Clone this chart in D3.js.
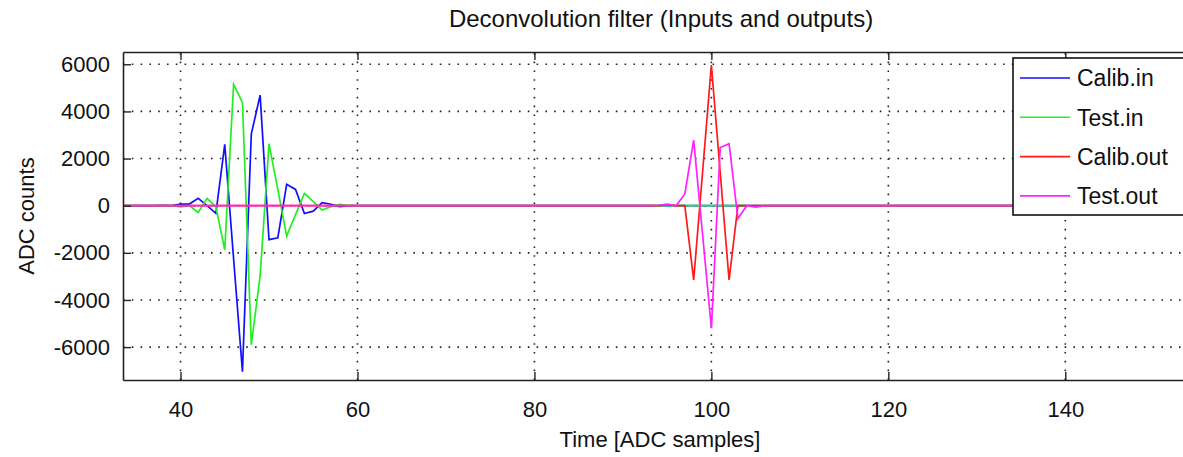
<!DOCTYPE html>
<html>
<head>
<meta charset="utf-8">
<script src="https://cdn.jsdelivr.net/npm/d3@7"></script>
<style>
  html, body { margin: 0; padding: 0; background: #fff; }
  svg { display: block; font-family: "Liberation Sans", Arial, Helvetica, sans-serif; }
</style>
</head>
<body>
<svg id="chart" width="1183" height="457"></svg>
<script>
// Sample index range covered by every trace; samples outside each pulse window are zero.
const sampleRange = [30, 160];

// Pulse windows: [sample, ADC counts]
const calibIn = [
  [37, 0], [38, 20], [39, 0], [40, 70], [41, 70], [42, 310], [43, 0], [44, -325],
  [45, 2600], [46, -2250], [47, -7040], [48, 3040], [49, 4690], [50, -1440],
  [51, -1360], [52, 905], [53, 690], [54, -330], [55, -230], [56, 127], [57, 60],
  [58, -40], [59, 0]
];
const testIn = [
  [39, 0], [40, -50], [41, 0], [42, -290], [43, 311], [44, -50], [45, -1870],
  [46, 5150], [47, 4380], [48, -5900], [49, -2980], [50, 2630], [51, 680],
  [52, -1290], [53, -380], [54, 520], [55, 170], [56, -180], [57, -40], [58, 60],
  [59, 0]
];
const calibOut = [
  [94, 0], [95, 40], [96, 0], [97, 0], [98, -3150], [99, 1400], [100, 5970],
  [101, 1400], [102, -3150], [103, 0], [104, 0]
];
const testOut = [
  [93, 0], [94, 20], [95, 70], [96, 0], [97, 500], [98, 2780], [99, -1200],
  [100, -5200], [101, 2470], [102, 2630], [103, -540], [104, 0], [105, -60],
  [106, 0]
];

const seriesNames = ["Calib.in", "Test.in", "Calib.out", "Test.out"];
const seriesColors = ["#1010ff", "#22ee22", "#ff1a1a", "#ff22ff"];
const xTicks = [40, 60, 80, 100, 120, 140];
const yTicks = [-6000, -4000, -2000, 0, 2000, 4000, 6000];

// Expand a pulse window into a full trace over the sample range
function fullTrace(pulse) {
  const m = new Map(pulse);
  return d3.range(sampleRange[0], sampleRange[1] + 1).map(s => [s, m.get(s) || 0]);
}
const traces = [calibIn, testIn, calibOut, testOut].map(fullTrace);

const svg = d3.select("#chart");
const plot = { left: 123, top: 52, right: 1198, bottom: 380 };

const x = d3.scaleLinear().domain([33.5, 155]).range([plot.left, plot.right]);
const y = d3.scaleLinear().domain([-7395, 6521]).range([plot.bottom, plot.top]);

svg.append("defs").append("clipPath").attr("id", "plotClip")
  .append("rect")
  .attr("x", plot.left).attr("y", plot.top)
  .attr("width", plot.right - plot.left).attr("height", plot.bottom - plot.top);

// Dotted grid
const grid = svg.append("g").attr("clip-path", "url(#plotClip)")
  .attr("stroke", "#222").attr("stroke-width", 1.6).attr("stroke-dasharray", "1.6,7.2");
grid.selectAll("line.gx").data(xTicks).join("line")
  .attr("x1", d => x(d)).attr("x2", d => x(d))
  .attr("y1", plot.bottom).attr("y2", plot.top);
grid.selectAll("line.gy").data(yTicks).join("line")
  .attr("x1", plot.left).attr("x2", plot.right)
  .attr("y1", d => y(d)).attr("y2", d => y(d));

// Traces
const line = d3.line().x(d => x(d[0])).y(d => y(d[1]));
svg.append("g").attr("clip-path", "url(#plotClip)")
  .selectAll("path").data(traces).join("path")
  .attr("d", line)
  .attr("fill", "none")
  .attr("stroke", (d, i) => seriesColors[i])
  .attr("stroke-width", 1.7)
  .attr("stroke-linejoin", "miter");

// Axes with inward ticks on all four sides; plain hyphen for negatives
const tickLen = 8;
const axisColor = "#222";
const fmt = d => String(d);
const bottomAxis = svg.append("g").attr("transform", `translate(0,${plot.bottom})`)
  .call(d3.axisBottom(x).tickValues(xTicks).tickFormat(fmt).tickSizeInner(-tickLen).tickSizeOuter(0).tickPadding(21));
const topAxis = svg.append("g").attr("transform", `translate(0,${plot.top})`)
  .call(d3.axisTop(x).tickValues(xTicks).tickSizeInner(-tickLen).tickSizeOuter(0).tickFormat(""));
const leftAxis = svg.append("g").attr("transform", `translate(${plot.left},0)`)
  .call(d3.axisLeft(y).tickValues(yTicks).tickFormat(fmt).tickSizeInner(-tickLen).tickSizeOuter(0).tickPadding(13));
const rightAxis = svg.append("g").attr("transform", `translate(${plot.right},0)`)
  .call(d3.axisRight(y).tickValues(yTicks).tickSizeInner(-tickLen).tickSizeOuter(0).tickFormat(""));

[bottomAxis, topAxis, leftAxis, rightAxis].forEach(g => {
  g.attr("font-size", 22).attr("font-family", "'Liberation Sans', Arial, sans-serif");
  g.select(".domain").attr("stroke", axisColor).attr("stroke-width", 1.6);
  g.selectAll(".tick line").attr("stroke", axisColor).attr("stroke-width", 1.4);
  g.selectAll(".tick text").attr("fill", "#111");
});

// Title and axis labels
svg.append("text").attr("x", 661).attr("y", 27).attr("text-anchor", "middle")
  .attr("font-size", 24).attr("fill", "#111").text("Deconvolution filter (Inputs and outputs)");
svg.append("text").attr("x", 660).attr("y", 447).attr("text-anchor", "middle")
  .attr("font-size", 22).attr("fill", "#111").text("Time [ADC samples]");
svg.append("text").attr("transform", `translate(34,${(plot.top + plot.bottom) / 2}) rotate(-90)`)
  .attr("text-anchor", "middle").attr("font-size", 22).attr("fill", "#111").text("ADC counts");

// Legend
const legend = svg.append("g");
legend.append("rect").attr("x", 1013).attr("y", 58).attr("width", 190).attr("height", 157)
  .attr("fill", "#fff").attr("stroke", "#111").attr("stroke-width", 1.6);
const rows = legend.selectAll("g.row").data(seriesNames).join("g")
  .attr("transform", (d, i) => `translate(0,${78 + i * 39.3})`);
rows.append("line").attr("x1", 1020).attr("x2", 1070).attr("y1", 0).attr("y2", 0)
  .attr("stroke", (d, i) => seriesColors[i]).attr("stroke-width", 1.6);
rows.append("text").attr("x", 1077).attr("y", 0).attr("dy", "0.36em")
  .attr("font-size", 23).attr("fill", "#111").text(d => d);
</script>
</body>
</html>
